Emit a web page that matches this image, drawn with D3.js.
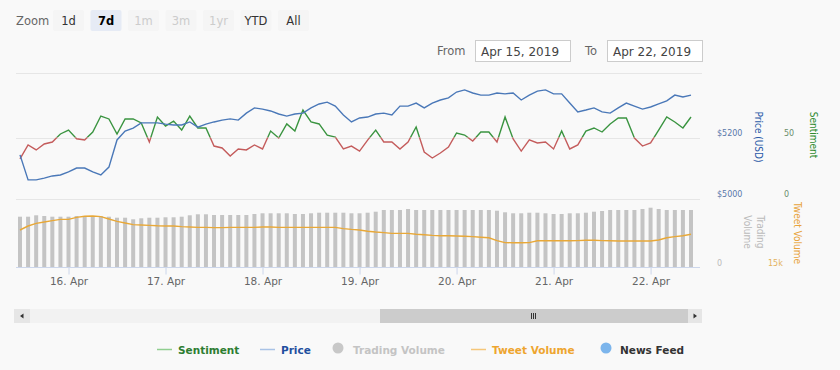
<!DOCTYPE html>
<html>
<head>
<meta charset="utf-8">
<script src="https://cdn.jsdelivr.net/npm/d3@7"></script>
<style>
body { margin: 0; background: #f9f9f9; }
svg { display: block; font-family: "DejaVu Sans", sans-serif; }
</style>
</head>
<body>
<script>
// 2-hourly points, Apr 15 12:00 -> Apr 22 10:00 (UTC)
const startTime = new Date(Date.UTC(2019, 3, 15, 12));
const endTime = new Date(Date.UTC(2019, 3, 22, 12));
const times = d3.utcHour.every(2).range(startTime, endTime);

const sentiment = [
  32.4, 43.9, 39.8, 44.7, 46.3, 52.9, 56.1, 49.0, 48.0, 54.5, 67.6, 65.2, 52.9, 65.2,
  65.2, 61.9, 46.3, 66.8, 59.4, 63.5, 56.1, 67.6, 57.8, 57.8, 43.0, 41.4, 34.8, 40.6,
  39.8, 43.9, 40.6, 55.3, 49.6, 61.1, 55.3, 72.5, 62.7, 61.1, 52.0, 50.4, 40.6, 43.0,
  38.9, 47.9, 56.1, 46.3, 46.3, 40.6, 46.3, 58.6, 38.1, 33.2, 37.3, 42.2, 53.7, 52.0,
  47.1, 54.5, 54.5, 46.3, 66.8, 48.8, 38.9, 48.0, 45.5, 46.3, 40.6, 55.3, 40.6, 43.9,
  55.3, 57.8, 54.5, 61.1, 66.0, 66.0, 49.6, 43.0, 45.5, 56.1, 66.8, 62.7, 57.8, 66.8
];
const price = [
  5143, 5061, 5061, 5067, 5074, 5077, 5087, 5100, 5100, 5087, 5077, 5103, 5192, 5221,
  5231, 5248, 5248, 5248, 5244, 5241, 5241, 5251, 5234, 5244, 5251, 5257, 5261, 5257,
  5280, 5297, 5293, 5287, 5277, 5270, 5277, 5280, 5297, 5310, 5316, 5303, 5274, 5251,
  5264, 5267, 5277, 5280, 5274, 5303, 5303, 5313, 5297, 5313, 5323, 5330, 5349, 5356,
  5346, 5339, 5339, 5346, 5343, 5346, 5323, 5339, 5352, 5356, 5343, 5343, 5313, 5284,
  5290, 5297, 5284, 5280, 5297, 5313, 5303, 5293, 5300, 5310, 5320, 5339, 5333, 5339
];
// millions USD
const tradingVolume = [
  503, 503, 517, 510, 503, 503, 503, 510, 510, 510, 510, 503, 493, 493,
  477, 487, 493, 493, 497, 497, 503, 517, 527, 527, 520, 520, 520, 520,
  520, 530, 537, 537, 537, 537, 530, 530, 537, 543, 543, 543, 543, 537,
  537, 543, 553, 570, 570, 570, 580, 570, 570, 570, 570, 570, 570, 570,
  570, 570, 570, 563, 547, 537, 537, 543, 543, 537, 530, 530, 537, 537,
  543, 553, 560, 570, 570, 570, 570, 580, 593, 580, 570, 570, 570, 570
];
const tweetVolume = [
  24250, 25250, 25900, 26250, 26600, 26900, 26900, 27400, 27700, 27750, 27600, 27000, 26400, 26000,
  25600, 25500, 25400, 25300, 25250, 25250, 25100, 25000, 24900, 24900, 24850, 24850, 24900, 24900,
  24900, 24900, 25000, 25000, 24900, 24900, 24900, 24900, 24900, 24900, 24900, 24900, 24600, 24400,
  24250, 23950, 23750, 23600, 23400, 23400, 23400, 23200, 23050, 22900, 22800, 22800, 22750, 22700,
  22600, 22450, 22300, 21600, 21100, 21050, 21050, 21100, 21550, 21550, 21550, 21550, 21550, 21600,
  21700, 21700, 21600, 21550, 21500, 21500, 21500, 21500, 21500, 21750, 22300, 22600, 22800, 23200
];

const priceTicks = [5000, 5200];
const sentimentTicks = [0, 50];
const volumeTicks = [0];
const tweetTicks = [15000];
const sentimentThreshold = 50;

const zoomButtons = ["1d", "7d", "1m", "3m", "1yr", "YTD", "All"];
const disabledButtons = ["1m", "3m", "1yr"];
const selectedButton = "7d";
const dateFrom = "Apr 15, 2019";
const dateTo = "Apr 22, 2019";

const W = 840, H = 370;
const plotLeft = 16, plotRight = 700;

const svg = d3.select("body").append("svg").attr("width", W).attr("height", H);

const x = d3.scaleUtc().domain([times[0], times[times.length - 1]]).range([20, 691]);
const yPrice = d3.scaleLinear().domain([5000, 5400]).range([198.5, 76.5]);
const ySent = d3.scaleLinear().domain([0, 100]).range([198.5, 76.5]);
const yVol = d3.scaleLinear().domain([0, 600]).range([267, 207]);
const yTweet = d3.scaleLinear().domain([15000, 30000]).range([267, 207]);

// range selector
const header = svg.append("g");
header.append("text").attr("x", 16).attr("y", 25).attr("fill", "#666")
  .style("font-size", "11.5px").text("Zoom");
const btn = header.selectAll("g.btn").data(zoomButtons).enter().append("g")
  .attr("transform", (d, i) => "translate(" + (53 + i * 37.5) + ",10)");
btn.append("rect").attr("width", 31).attr("height", 21).attr("rx", 2)
  .attr("fill", d => d == selectedButton ? "#e6ebf5" : "#f5f5f5");
btn.append("text").attr("x", 15.5).attr("y", 15).attr("text-anchor", "middle")
  .style("font-size", "11.5px")
  .style("font-weight", d => d == selectedButton ? "bold" : "normal")
  .attr("fill", d => disabledButtons.includes(d) ? "#cccccc" : (d == selectedButton ? "#000" : "#333"))
  .text(d => d);

function dateBox(label, lx, bx, value) {
  header.append("text").attr("x", lx).attr("y", 55).attr("fill", "#666")
    .style("font-size", "11.5px").text(label);
  header.append("rect").attr("x", bx + 0.5).attr("y", 40.5).attr("width", 95).attr("height", 21)
    .attr("fill", "#fff").attr("stroke", "#cccccc");
  header.append("text").attr("x", bx + 6).attr("y", 55.5).attr("fill", "#444")
    .style("font-size", "12px").text(value);
}
dateBox("From", 437, 475, dateFrom);
dateBox("To", 585, 607, dateTo);

svg.append("line").attr("x1", plotLeft).attr("x2", plotRight + 2).attr("y1", 73.5).attr("y2", 73.5)
  .attr("stroke", "#e6e6e6");

// grid
svg.append("g").selectAll("line").data(priceTicks).enter().append("line")
  .attr("x1", plotLeft).attr("x2", plotRight)
  .attr("y1", d => Math.round(yPrice(d)) + 0.5).attr("y2", d => Math.round(yPrice(d)) + 0.5)
  .attr("stroke", "#e6e6e6");

// trading volume bars
svg.append("g").selectAll("rect").data(tradingVolume).enter().append("rect")
  .attr("x", (d, i) => x(times[i]) - 2)
  .attr("width", 4)
  .attr("y", d => yVol(d))
  .attr("height", d => yVol(0) - yVol(d))
  .attr("fill", "#c4c4c4");

// tweet volume
svg.append("path").datum(tweetVolume)
  .attr("d", d3.line().x((d, i) => x(times[i])).y(d => yTweet(d)))
  .attr("fill", "none").attr("stroke", "#e8a838").attr("stroke-width", 1.4);

// sentiment with threshold zones
const defs = svg.append("defs");
defs.append("clipPath").attr("id", "above").append("rect")
  .attr("x", plotLeft).attr("width", plotRight - plotLeft)
  .attr("y", 0).attr("height", ySent(sentimentThreshold));
defs.append("clipPath").attr("id", "below").append("rect")
  .attr("x", plotLeft).attr("width", plotRight - plotLeft)
  .attr("y", ySent(sentimentThreshold)).attr("height", 210 - ySent(sentimentThreshold));

const sentLine = d3.line().x((d, i) => x(times[i])).y(d => ySent(d));
svg.append("path").datum(sentiment).attr("d", sentLine).attr("clip-path", "url(#above)")
  .attr("fill", "none").attr("stroke", "#3a9440").attr("stroke-width", 1.4);
svg.append("path").datum(sentiment).attr("d", sentLine).attr("clip-path", "url(#below)")
  .attr("fill", "none").attr("stroke", "#c45c5c").attr("stroke-width", 1.4);

// price
svg.append("path").datum(price)
  .attr("d", d3.line().x((d, i) => x(times[i])).y(d => yPrice(d)))
  .attr("fill", "none").attr("stroke", "#4a78b8").attr("stroke-width", 1.4);

// x axis
const xAxis = svg.append("g").attr("transform", "translate(0,267.5)")
  .call(d3.axisBottom(x).ticks(d3.utcDay.every(1)).tickFormat(d3.utcFormat("%-d. %b"))
    .tickSizeInner(7).tickSizeOuter(0).tickPadding(3));
xAxis.select(".domain").attr("d", "M" + plotLeft + ",0H" + plotRight).attr("stroke", "#ccd6eb");
xAxis.selectAll(".tick line").attr("stroke", "#ccd6eb");
xAxis.selectAll("text").attr("fill", "#666").style("font-size", "10.5px")
  .style("font-family", "DejaVu Sans");

// right axes
function rightAxis(scale, ticks, xPos, fmt, color) {
  svg.append("g").selectAll("text").data(ticks).enter().append("text")
    .attr("x", xPos).attr("y", d => scale(d) - 1.5)
    .attr("fill", color).style("font-size", "8px").text(fmt);
}
rightAxis(yPrice, priceTicks, 717, d => "$" + d, "#5a78aa");
rightAxis(ySent, sentimentTicks, 784, d => d, "#6b8e6b");
rightAxis(yVol, volumeTicks, 717, d => d, "#bbbbbb");
rightAxis(yTweet, tweetTicks, 768, d => d3.format("~s")(d), "#e3b25e");

function axisTitle(lines, cx, cy, color) {
  const t = svg.append("text").attr("transform", "translate(" + cx + "," + cy + ") rotate(90)")
    .attr("text-anchor", "middle").attr("fill", color)
    .style("font-family", "DejaVu Sans Condensed, DejaVu Sans").style("font-size", "10px");
  lines.forEach((l, i) => {
    t.append("tspan").attr("x", 0)
      .attr("y", (i - (lines.length - 1) / 2) * 13).attr("dy", "0.35em").text(l);
  });
}
axisTitle(["Price (USD)"], 758, 137, "#2b5aa8");
axisTitle(["Sentiment"], 813, 135, "#2e8b2e");
axisTitle(["Trading", "Volume"], 753.5, 232, "#bbbbbb");
axisTitle(["Tweet Volume"], 797, 233, "#e8a33a");

// scrollbar
const sb = svg.append("g");
sb.append("rect").attr("x", 14).attr("y", 309).attr("width", 688).attr("height", 14).attr("fill", "#f2f2f2");
sb.append("rect").attr("x", 380).attr("y", 309).attr("width", 308).attr("height", 14).attr("fill", "#cccccc");
sb.append("rect").attr("x", 14).attr("y", 309).attr("width", 16).attr("height", 14).attr("fill", "#e6e6e6");
sb.append("rect").attr("x", 688).attr("y", 309).attr("width", 14).attr("height", 14).attr("fill", "#e6e6e6");
sb.append("path").attr("d", "M20,316L23.5,313.5V318.5Z").attr("fill", "#333");
sb.append("path").attr("d", "M697,316L693.5,313.5V318.5Z").attr("fill", "#333");
sb.selectAll("line.grip").data([-2, 0, 2]).enter().append("line")
  .attr("x1", d => 533.5 + d).attr("x2", d => 533.5 + d)
  .attr("y1", 313).attr("y2", 319).attr("stroke", "#333");

// legend
const legendItems = [
  { name: "Sentiment", symbol: "line", sx: 157, tx: 178, sym: "#90cf90", color: "#2e7d32" },
  { name: "Price", symbol: "line", sx: 260, tx: 281, sym: "#a9c3e6", color: "#1f4f9f" },
  { name: "Trading Volume", symbol: "dot", sx: 338, tx: 353, sym: "#c8c8c8", color: "#c4c4c4" },
  { name: "Tweet Volume", symbol: "line", sx: 471, tx: 492, sym: "#f5c77a", color: "#eea52f" },
  { name: "News Feed", symbol: "dot", sx: 606, tx: 620, sym: "#7cb5ec", color: "#333333" }
];
const lg = svg.append("g").selectAll("g").data(legendItems).enter().append("g");
lg.filter(d => d.symbol == "line").append("line")
  .attr("x1", d => d.sx).attr("x2", d => d.sx + 15).attr("y1", 349.5).attr("y2", 349.5)
  .attr("stroke", d => d.sym).attr("stroke-width", 1.5);
lg.filter(d => d.symbol == "dot").append("circle")
  .attr("cx", d => d.sx).attr("cy", 348).attr("r", 5.5).attr("fill", d => d.sym);
lg.append("text").attr("x", d => d.tx).attr("y", 354).attr("fill", d => d.color)
  .style("font-size", "10.5px").style("font-weight", "bold").text(d => d.name);
</script>
</body>
</html>
